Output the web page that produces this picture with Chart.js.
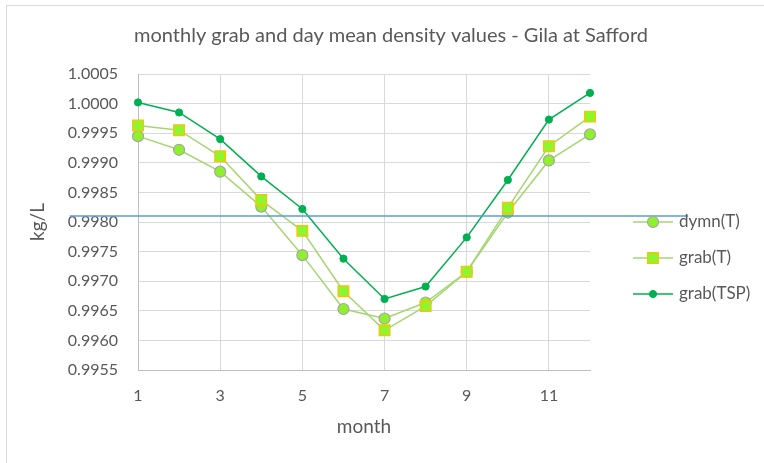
<!DOCTYPE html>
<html>
<head>
<meta charset="utf-8">
<script src="https://cdn.jsdelivr.net/npm/chart.js@4.4.1/dist/chart.umd.min.js"></script>
<style>
  html, body { margin: 0; padding: 0; background: #ffffff; }
  #wrap { position: relative; width: 764px; height: 463px; overflow: hidden; }
  #frame { position: absolute; left: 6px; top: 5px; width: 800px; height: 500px; border: 1px solid #d9d9d9; }
  canvas { position: absolute; left: 0; top: 0; }
</style>
</head>
<body>
<div id="wrap">
  <div id="frame"></div>
  <canvas id="c" width="764" height="463"></canvas>
</div>
<script>
const titleText = 'monthly grab and day mean density values - Gila at Safford';
const months = [1, 2, 3, 4, 5, 6, 7, 8, 9, 10, 11, 12];
const dymnT   = [0.99945, 0.99922, 0.99885, 0.99826, 0.99744, 0.99653, 0.99637, 0.99664, 0.99716, 0.99816, 0.99904, 0.99948];
const grabT   = [0.99963, 0.99955, 0.99911, 0.99837, 0.99785, 0.99683, 0.99617, 0.99658, 0.99716, 0.99824, 0.99928, 0.99978];
const grabTSP = [1.00002, 0.99985, 0.99940, 0.99877, 0.99822, 0.99738, 0.99670, 0.99691, 0.99774, 0.99871, 0.99973, 1.00018];
const xTicks = [1, 3, 5, 7, 9, 11];
const yTicks = [0.9955, 0.9960, 0.9965, 0.9970, 0.9975, 0.9980, 0.9985, 0.9990, 0.9995, 1.0000, 1.0005];
// stray horizontal reference line present in the source picture (data units)
const refLine = { y: 0.99810, xFrom: -0.66, xTo: 14.39 };

const FONT = 'Lato, "Open Sans", sans-serif';
const GRAY = '#595959';

const toPts = arr => months.map((m, i) => ({ x: m, y: arr[i] }));

const datasets = [
  { label: 'dymn(T)', data: toPts(dymnT), order: 2, clip: false,
    borderColor: '#A6D672', borderWidth: 1.5,
    pointStyle: 'circle', pointRadius: 5.5, pointBackgroundColor: '#8FF02C',
    pointBorderColor: '#A5A5A5', pointBorderWidth: 1.2 },
  { label: 'grab(T)', data: toPts(grabT), order: 1, clip: false,
    borderColor: '#A6D672', borderWidth: 1.5,
    pointStyle: 'rect', pointRadius: 7.6, pointBackgroundColor: '#8FF52C',
    pointBorderColor: '#FFC000', pointBorderWidth: 1.2 },
  { label: 'grab(TSP)', data: toPts(grabTSP), order: 0, clip: false,
    borderColor: '#00B050', borderWidth: 1.5,
    pointStyle: 'circle', pointRadius: 3.6, pointBackgroundColor: '#00B050',
    pointBorderColor: '#00B050', pointBorderWidth: 1 }
];

const deco = {
  id: 'deco',
  afterDraw(chart) {
    const { ctx, scales: { x, y } } = chart;
    ctx.save();
    // title
    ctx.font = '20px ' + FONT;
    ctx.fillStyle = GRAY;
    ctx.textAlign = 'center';
    ctx.textBaseline = 'middle';
    ctx.fillText(titleText, 391, 36);
    // reference line
    ctx.strokeStyle = '#5B9BD5';
    ctx.lineWidth = 1.5;
    ctx.beginPath();
    ctx.moveTo(x.getPixelForValue(refLine.xFrom), y.getPixelForValue(refLine.y));
    ctx.lineTo(x.getPixelForValue(refLine.xTo), y.getPixelForValue(refLine.y));
    ctx.stroke();
    // legend
    const legY = [222, 258, 294];
    datasets.forEach((ds, i) => {
      const ly = legY[i];
      ctx.strokeStyle = ds.borderColor;
      ctx.lineWidth = ds.borderWidth;
      ctx.beginPath();
      ctx.moveTo(633, ly);
      ctx.lineTo(673, ly);
      ctx.stroke();
      ctx.fillStyle = ds.pointBackgroundColor;
      ctx.strokeStyle = ds.pointBorderColor;
      ctx.lineWidth = ds.pointBorderWidth;
      Chart.helpers.drawPoint(ctx, { pointStyle: ds.pointStyle, radius: ds.pointRadius, rotation: 0, borderWidth: ds.pointBorderWidth }, 653, ly);
      ctx.fillStyle = GRAY;
      ctx.font = '17px ' + FONT;
      ctx.textAlign = 'left';
      ctx.textBaseline = 'middle';
      ctx.fillText(ds.label, 679, ly);
    });
    ctx.restore();
  }
};

new Chart(document.getElementById('c'), {
  type: 'line',
  data: { datasets },
  options: {
    responsive: false,
    animation: false,
    devicePixelRatio: 1,
    layout: { padding: { top: 74, right: 174, bottom: 0, left: 0 } },
    plugins: { legend: { display: false }, title: { display: false }, tooltip: { enabled: false } },
    scales: {
      x: {
        type: 'linear', min: 1, max: 12,
        afterBuildTicks: s => { s.ticks = xTicks.map(v => ({ value: v })); },
        afterFit: s => { s.height = 93; },
        grid: { color: '#d9d9d9', lineWidth: 1, drawTicks: false },
        border: { color: '#bfbfbf', width: 1 },
        ticks: { padding: 16, color: GRAY, font: { family: FONT, size: 16 }, maxRotation: 0 },
        title: { display: true, text: 'month', color: GRAY, font: { family: FONT, size: 19 }, padding: { top: 0, bottom: 25 } }
      },
      y: {
        type: 'linear', min: 0.9955, max: 1.0005,
        afterBuildTicks: s => { s.ticks = yTicks.map(v => ({ value: v })); },
        afterFit: s => { s.width = 138; },
        grid: { color: '#d9d9d9', lineWidth: 1, drawTicks: false },
        border: { color: '#bfbfbf', width: 1 },
        ticks: { padding: 20, color: GRAY, font: { family: FONT, size: 16 }, callback: v => Number(v).toFixed(4) },
        title: { display: true, text: 'kg/L', color: GRAY, font: { family: FONT, size: 19 }, padding: { top: 26, bottom: 0 } }
      }
    }
  },
  plugins: [deco]
});
</script>
</body>
</html>
